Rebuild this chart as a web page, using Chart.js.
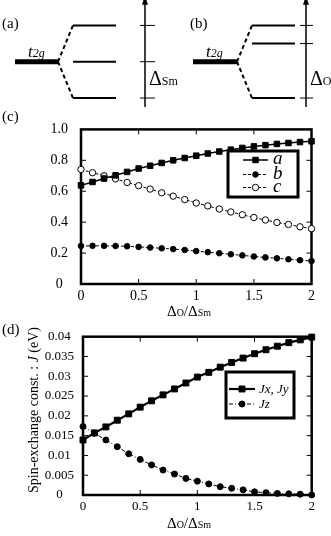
<!DOCTYPE html>
<html>
<head>
<meta charset="utf-8">
<script src="https://cdn.jsdelivr.net/npm/chart.js@4/dist/chart.umd.min.js"></script>
<style>
  body { margin: 0; background: #fff; width: 331px; height: 536px; position: relative; overflow: hidden; }
  canvas { position: absolute; left: 0; }
</style>
</head>
<body>
<canvas id="diagram" width="331" height="110" style="top:0"></canvas>
<canvas id="chartC" width="331" height="222" style="top:108px"></canvas>
<canvas id="chartD" width="331" height="218" style="top:318px"></canvas>
<script>
// x axis: Delta_O / Delta_Sm
const ratio = [0, 0.1, 0.2, 0.3, 0.4, 0.5, 0.6, 0.7, 0.8, 0.9, 1.0,
               1.1, 1.2, 1.3, 1.4, 1.5, 1.6, 1.7, 1.8, 1.9, 2.0];

// panel (c) coefficients
const coefA = [0.638, 0.66, 0.682, 0.703, 0.725, 0.747, 0.765, 0.783, 0.8, 0.815, 0.83,
               0.844, 0.857, 0.869, 0.88, 0.89, 0.898, 0.906, 0.912, 0.918, 0.923];
const coefB = [0.246, 0.247, 0.247, 0.246, 0.244, 0.24, 0.236, 0.231, 0.226, 0.22, 0.213,
               0.206, 0.199, 0.192, 0.185, 0.178, 0.172, 0.166, 0.16, 0.154, 0.149];
const coefC = [0.741, 0.72, 0.70, 0.68, 0.657, 0.636, 0.614, 0.59, 0.568, 0.546, 0.524,
               0.505, 0.485, 0.466, 0.448, 0.43, 0.414, 0.398, 0.385, 0.37, 0.358];

// panel (d) spin-exchange constants (eV)
const jxy = [0.0139, 0.0157, 0.0172, 0.0189, 0.0205, 0.0222, 0.0238, 0.0253, 0.0268, 0.0283, 0.0298,
             0.031, 0.0323, 0.0335, 0.0346, 0.0357, 0.0367, 0.0376, 0.0385, 0.0392, 0.0399];
const jz = [0.0173, 0.0156, 0.0139, 0.0122, 0.0104, 0.009, 0.0076, 0.0063, 0.0053, 0.0042, 0.0035,
            0.0028, 0.0021, 0.0017, 0.0013, 0.0008, 0.0006, 0.0004, 0.0003, 0.0002, 0];

// panels (a), (b): level energies relative to t2g
const levelsSm = [1, 0, -1];
const levelsO = [1, 0.5, -1];

const serif = "'Liberation Serif', 'Times New Roman', serif";

function pts(ys) {
  return ratio.map((x, i) => ({ x: x, y: ys[i] }));
}

function seg(x0, y0, x1, y1, width, dash) {
  return {
    data: [{ x: x0, y: y0 }, { x: x1, y: y1 }],
    borderColor: "#000", borderWidth: width, borderDash: dash || [],
    pointRadius: 0, showLine: true, fill: false, clip: false
  };
}

// ---------- diagrams (a) and (b) ----------
const panels = [
  { name: "(a)", nameX: 2, bar: [15, 58], lev: [73, 116], axis: 145, tick: [140, 155], levels: levelsSm, sub: "Sm" },
  { name: "(b)", nameX: 190, bar: [193, 237], lev: [252, 295], axis: 306, tick: [300, 313], levels: levelsO, sub: "O" }
];
const axisLow = -1.25, axisHigh = 1.6;

let diagSets = [];
panels.forEach(p => {
  diagSets.push(seg(p.bar[0], 0, p.bar[1], 0, 5));
  p.levels.forEach(e => {
    diagSets.push(seg(p.lev[0], e, p.lev[1], e, 2));
    diagSets.push(seg(p.tick[0], e, p.tick[1], e, 1));
  });
  diagSets.push(seg(p.bar[1], 0, p.lev[0], p.levels[0], 2, [4, 3]));
  diagSets.push(seg(p.bar[1], 0, p.lev[0], p.levels[2], 2, [4, 3]));
  diagSets.push(seg(p.axis, axisLow, p.axis, axisHigh, 1.5));
});

const diagText = {
  id: "diagText",
  afterDraw(chart) {
    const { ctx, scales: { x, y } } = chart;
    ctx.save();
    ctx.fillStyle = "#000";
    panels.forEach(p => {
      ctx.font = "15px " + serif;
      ctx.textBaseline = "middle";
      ctx.fillText(p.name, p.nameX, 24);
      ctx.textBaseline = "alphabetic";
      // t2g label
      let bx = x.getPixelForValue(p.bar[0]) + 13;
      let by = y.getPixelForValue(0) - 5;
      ctx.font = "italic 17px " + serif;
      ctx.fillText("t", bx, by);
      bx += ctx.measureText("t").width;
      ctx.font = "italic 12px " + serif;
      ctx.fillText("2g", bx, by);
      // arrow head
      const ax = x.getPixelForValue(p.axis);
      const top = y.getPixelForValue(axisHigh);
      ctx.beginPath();
      ctx.moveTo(ax, top - 8);
      ctx.lineTo(ax - 3, top + 1);
      ctx.lineTo(ax + 3, top + 1);
      ctx.closePath();
      ctx.fill();
      // delta label
      let lx = ax + 4;
      const ly = y.getPixelForValue(-0.65);
      ctx.font = "20px " + serif;
      ctx.fillText("\u0394", lx, ly);
      lx += ctx.measureText("\u0394").width;
      ctx.font = "12px " + serif;
      ctx.fillText(p.sub, lx, ly);
    });
    ctx.restore();
  }
};

new Chart(document.getElementById("diagram"), {
  type: "scatter",
  data: { datasets: diagSets },
  options: {
    responsive: false, animation: false, events: [],
    layout: { padding: 0 },
    plugins: { legend: { display: false }, tooltip: { enabled: false } },
    scales: {
      x: { type: "linear", min: 0, max: 331, display: false },
      y: { type: "linear", min: -1.33, max: 1.7, display: false }
    }
  },
  plugins: [diagText]
});

// ---------- shared helpers for (c) and (d) ----------
function drawTitle(ctx, cx, baseline, big, small) {
  const parts = [["\u0394", big], ["O", small], ["/", big], ["\u0394", big], ["Sm", small]];
  let total = 0;
  parts.forEach(pp => { ctx.font = pp[1] + "px " + serif; total += ctx.measureText(pp[0]).width; });
  let px = cx - total / 2;
  parts.forEach(pp => {
    ctx.font = pp[1] + "px " + serif;
    ctx.fillText(pp[0], px, baseline);
    px += ctx.measureText(pp[0]).width;
  });
}

function drawMarker(ctx, ds, cx, cy) {
  ctx.fillStyle = ds.pointBackgroundColor;
  ctx.strokeStyle = "#000";
  ctx.lineWidth = 1;
  ctx.setLineDash([]);
  ctx.beginPath();
  if (ds.pointStyle === "rect") {
    const s = ds.pointRadius * Math.SQRT1_2;
    ctx.rect(cx - s, cy - s, 2 * s, 2 * s);
  } else {
    ctx.arc(cx, cy, ds.pointRadius, 0, Math.PI * 2);
  }
  ctx.fill();
  ctx.stroke();
}

function framePlugin(extra) {
  return {
    id: "frame",
    beforeDatasetsDraw(chart) {
      const { ctx, chartArea: a, scales: { x, y } } = chart;
      ctx.save();
      ctx.strokeStyle = "#000";
      ctx.lineWidth = 1;
      ctx.beginPath();
      x.ticks.forEach((t, i) => {
        const px = x.getPixelForTick(i);
        ctx.moveTo(px, a.bottom); ctx.lineTo(px, a.bottom - 5);
        ctx.moveTo(px, a.top); ctx.lineTo(px, a.top + 5);
      });
      y.ticks.forEach((t, i) => {
        const py = y.getPixelForTick(i);
        ctx.moveTo(a.left, py); ctx.lineTo(a.left + 5, py);
        ctx.moveTo(a.right, py); ctx.lineTo(a.right - 5, py);
      });
      ctx.stroke();
      ctx.lineWidth = 2.5;
      ctx.strokeRect(a.left, a.top, a.right - a.left, a.bottom - a.top);
      ctx.restore();
    },
    afterDraw(chart) {
      const { ctx } = chart;
      ctx.save();
      ctx.fillStyle = "#000";
      extra(chart, ctx);
      ctx.restore();
    }
  };
}

function drawLegend(ctx, chart, box, rows, line, textX, font) {
  ctx.fillStyle = "#fff";
  ctx.fillRect(box[0], box[1], box[2] - box[0], box[3] - box[1]);
  ctx.strokeStyle = "#000";
  ctx.lineWidth = 3;
  ctx.strokeRect(box[0], box[1], box[2] - box[0], box[3] - box[1]);
  chart.data.datasets.forEach((ds, i) => {
    const ry = rows[i];
    ctx.strokeStyle = "#000";
    ctx.lineWidth = ds.borderWidth;
    ctx.setLineDash(ds.borderDash || []);
    ctx.beginPath();
    ctx.moveTo(line[0], ry); ctx.lineTo(line[1], ry);
    ctx.stroke();
    drawMarker(ctx, ds, (line[0] + line[1]) / 2, ry);
    ctx.fillStyle = "#000";
    ctx.font = font;
    ctx.textBaseline = "alphabetic";
    ctx.fillText(ds.label, textX, ry + 4);
  });
}

function series(label, ys, style, radius, fillColor, width, dash) {
  return {
    label: label, data: pts(ys),
    borderColor: "#000", borderWidth: width, borderDash: dash,
    pointStyle: style, pointRadius: radius, pointBorderWidth: 1,
    pointBackgroundColor: fillColor, pointBorderColor: "#000",
    showLine: true, fill: false, clip: false
  };
}

function axes(yMin, yMax, yStep, yFmt, yWidth, yPad, fontSize, xHeight) {
  const font = { family: serif, size: fontSize };
  return {
    x: {
      type: "linear", min: 0, max: 2,
      grid: { display: false, drawTicks: false }, border: { display: false },
      ticks: { stepSize: 0.5, color: "#000", font: font, padding: 4, maxRotation: 0,
               callback: v => String(+v.toFixed(1)) },
      afterFit: s => { s.height = xHeight; }
    },
    y: {
      type: "linear", min: yMin, max: yMax,
      grid: { display: false, drawTicks: false }, border: { display: false },
      ticks: { stepSize: yStep, color: "#000", font: font, padding: yPad, crossAlign: "center",
               callback: yFmt },
      afterFit: s => { s.width = yWidth; }
    }
  };
}

// ---------- panel (c) ----------
new Chart(document.getElementById("chartC"), {
  type: "scatter",
  data: {
    datasets: [
      series("a", coefA, "rect", 3.9, "#000", 1.5, []),
      series("b", coefB, "circle", 2.8, "#000", 1, [3, 2]),
      series("c", coefC, "circle", 3.2, "#fff", 1, [3, 2])
    ]
  },
  options: {
    responsive: false, animation: false, events: [],
    layout: { padding: { left: 0, right: 19.5, top: 15, bottom: 0 } },
    plugins: { legend: { display: false }, tooltip: { enabled: false } },
    scales: axes(0, 1, 0.2, v => (v === 1 ? "1.0" : String(+v.toFixed(1))), 81, 13, 14, 46)
  },
  plugins: [framePlugin((chart, ctx) => {
    drawLegend(ctx, chart, [228, 43, 298, 89], [52, 66.5, 79.5], [243, 268], 273, "italic 19px " + serif);
    ctx.fillStyle = "#000";
    ctx.font = "15px " + serif;
    ctx.textBaseline = "middle";
    ctx.fillText("(c)", 2, 9);
    ctx.textBaseline = "alphabetic";
    drawTitle(ctx, 189, 208, 15, 10);
  })]
});

// ---------- panel (d) ----------
new Chart(document.getElementById("chartD"), {
  type: "scatter",
  data: {
    datasets: [
      series("Jx, Jy", jxy, "rect", 4.2, "#000", 2.2, []),
      series("Jz", jz, "circle", 3, "#000", 1, [4, 2, 1, 2])
    ]
  },
  options: {
    responsive: false, animation: false, events: [],
    layout: { padding: { left: 0, right: 19.3, top: 18.7, bottom: 0 } },
    plugins: { legend: { display: false }, tooltip: { enabled: false } },
    scales: axes(0, 0.04, 0.005, v => String(+v.toFixed(3)), 83, 9, 13, 41)
  },
  plugins: [framePlugin((chart, ctx) => {
    drawLegend(ctx, chart, [226, 54, 294, 100], [71, 86], [229, 255], 259, "italic 13px " + serif);
    ctx.fillStyle = "#000";
    ctx.font = "15px " + serif;
    ctx.textBaseline = "middle";
    ctx.fillText("(d)", 2, 12);
    ctx.textBaseline = "alphabetic";
    drawTitle(ctx, 189, 210, 15, 10);
    // rotated y title
    ctx.save();
    ctx.translate(38, 92);
    ctx.rotate(-Math.PI / 2);
    const parts = [["Spin-exchange const. : ", "14px "], ["J", "italic 14px "], [" (eV)", "14px "]];
    let total = 0;
    parts.forEach(pp => { ctx.font = pp[1] + serif; total += ctx.measureText(pp[0]).width; });
    let px = -total / 2;
    parts.forEach(pp => {
      ctx.font = pp[1] + serif;
      ctx.fillText(pp[0], px, 0);
      px += ctx.measureText(pp[0]).width;
    });
    ctx.restore();
  })]
});
</script>
</body>
</html>
